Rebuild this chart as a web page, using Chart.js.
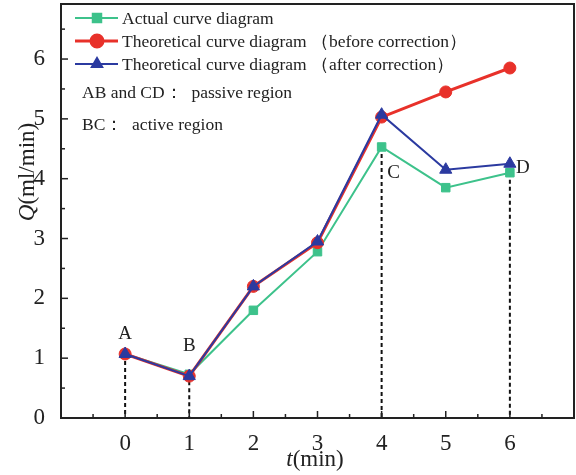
<!DOCTYPE html>
<html>
<head>
<meta charset="utf-8">
<script src="https://cdn.jsdelivr.net/npm/chart.js@4.4.0/dist/chart.umd.min.js"></script>
<style>
html,body{margin:0;padding:0;background:#fff;}
#wrap{width:576px;height:475px;position:relative;}
</style>
</head>
<body>
<div id="wrap"><canvas id="c" width="576" height="475"></canvas></div>
<script>
// ---- data ----
const times = [0, 1, 2, 3, 4, 5, 6];
const actualQ = [1.07, 0.73, 1.80, 2.78, 4.53, 3.85, 4.10];
const beforeQ = [1.07, 0.70, 2.20, 2.93, 5.03, 5.45, 5.85];
const afterQ  = [1.07, 0.70, 2.20, 2.95, 5.07, 4.15, 4.25];
const xTickLabels = ['0', '1', '2', '3', '4', '5', '6'];
const yTickLabels = ['0', '1', '2', '3', '4', '5', '6'];
const seriesNames = ['Actual curve diagram', 'Theoretical curve diagram （before correction）', 'Theoretical curve diagram （after correction）'];
const noteLines = ['AB and CD：  passive region', 'BC：  active region'];
const pointLabels = [{name:'A', idx:0}, {name:'B', idx:1}, {name:'C', idx:4}, {name:'D', idx:6}];

const GREEN = '#3dc28b', RED = '#e8312a', BLUE = '#2b3aa0';
const SERIF = '"Liberation Serif", "DejaVu Serif", serif';

const pts = arr => times.map((t, i) => ({x: t, y: arr[i]}));

const decor = {
  id: 'decor',
  beforeDatasetsDraw(chart) {
    const {ctx, chartArea: a, scales: {x, y}} = chart;
    ctx.save();
    ctx.strokeStyle = '#111';
    ctx.lineWidth = 2;
    ctx.setLineDash([4, 3]);
    pointLabels.forEach(p => {
      const px = x.getPixelForValue(times[p.idx]);
      ctx.beginPath();
      ctx.moveTo(px, y.getPixelForValue(actualQ[p.idx]));
      ctx.lineTo(px, y.getPixelForValue(0));
      ctx.stroke();
    });
    ctx.restore();
  },
  afterDraw(chart) {
    const {ctx, chartArea: a, scales: {x, y}} = chart;
    ctx.save();
    ctx.strokeStyle = '#222';
    ctx.lineWidth = 2;
    ctx.setLineDash([]);
    ctx.strokeRect(a.left, a.top, a.right - a.left, a.bottom - a.top);
    ctx.lineWidth = 1.5;
    for (let v = -0.5; v <= 6.5; v += 0.5) {
      const px = x.getPixelForValue(v);
      const len = Number.isInteger(v) ? 7 : 4;
      ctx.beginPath(); ctx.moveTo(px, a.bottom); ctx.lineTo(px, a.bottom - len); ctx.stroke();
    }
    for (let v = 0.5; v <= 6.5; v += 0.5) {
      const py = y.getPixelForValue(v);
      const len = Number.isInteger(v) ? 7 : 4;
      ctx.beginPath(); ctx.moveTo(a.left, py); ctx.lineTo(a.left + len, py); ctx.stroke();
    }
    ctx.fillStyle = '#222';
    ctx.textBaseline = 'middle';
    ctx.font = 'italic 23px ' + SERIF;
    const wt = ctx.measureText('t').width;
    ctx.font = '23px ' + SERIF;
    const wr = ctx.measureText('(min)').width;
    let sx = 315 - (wt + wr) / 2;
    ctx.font = 'italic 23px ' + SERIF;
    ctx.textAlign = 'left';
    ctx.fillText('t', sx, 460);
    ctx.font = '23px ' + SERIF;
    ctx.fillText('(min)', sx + wt, 460);
    ctx.save();
    ctx.translate(28, 172);
    ctx.rotate(-Math.PI / 2);
    ctx.font = 'italic 23px ' + SERIF;
    const wq = ctx.measureText('Q').width;
    ctx.font = '23px ' + SERIF;
    const wm = ctx.measureText('(ml/min)').width;
    let sq = -(wq + wm) / 2;
    ctx.font = 'italic 23px ' + SERIF;
    ctx.fillText('Q', sq, 0);
    ctx.font = '23px ' + SERIF;
    ctx.fillText('(ml/min)', sq + wq, 0);
    ctx.restore();
    ctx.font = '19px ' + SERIF;
    ctx.textAlign = 'center';
    const offs = {A: [0, -20], B: [0, -28], C: [12, 26], D: [13, -5]};
    pointLabels.forEach(p => {
      const px = x.getPixelForValue(times[p.idx]);
      const py = y.getPixelForValue(actualQ[p.idx]);
      const o = offs[p.name];
      ctx.fillText(p.name, px + o[0], py + o[1]);
    });
    const colors = [GREEN, RED, BLUE];
    const styles = ['rect', 'circle', 'triangle'];
    const widths = [2, 3, 2];
    const rows = [18, 41, 64];
    ctx.textAlign = 'left';
    ctx.font = '17.5px ' + SERIF;
    rows.forEach((ry, i) => {
      ctx.strokeStyle = colors[i];
      ctx.fillStyle = colors[i];
      ctx.lineWidth = widths[i];
      ctx.beginPath(); ctx.moveTo(75, ry); ctx.lineTo(118, ry); ctx.stroke();
      Chart.helpers.drawPoint(ctx, {pointStyle: styles[i], radius: 6, borderWidth: 1}, 97, ry);
      ctx.fillStyle = '#222';
      ctx.fillText(seriesNames[i], 122, ry + 1);
    });
    ctx.fillStyle = '#222';
    ctx.fillText(noteLines[0], 82, 93);
    ctx.fillText(noteLines[1], 82, 125);
    ctx.restore();
  }
};

new Chart(document.getElementById('c'), {
  type: 'line',
  data: {
    datasets: [
      {label: seriesNames[2], data: pts(afterQ), borderColor: BLUE, backgroundColor: BLUE, borderWidth: 2,
       pointStyle: 'triangle', pointRadius: 7, pointBorderWidth: 1, order: 0},
      {label: seriesNames[1], data: pts(beforeQ), borderColor: RED, backgroundColor: RED, borderWidth: 3,
       pointStyle: 'circle', pointRadius: 6, pointBorderWidth: 1, order: 1},
      {label: seriesNames[0], data: pts(actualQ), borderColor: GREEN, backgroundColor: GREEN, borderWidth: 2,
       pointStyle: 'rect', pointRadius: 6, pointBorderWidth: 1, order: 2}
    ]
  },
  options: {
    responsive: false,
    animation: false,
    layout: {autoPadding: false, padding: {top: 4, right: 2, left: 0, bottom: 0}},
    plugins: {legend: {display: false}, tooltip: {enabled: false}},
    scales: {
      x: {
        type: 'linear', min: -1, max: 7,
        afterBuildTicks: s => { s.ticks = xTickLabels.map(v => ({value: Number(v)})); },
        afterFit: s => { s.height = 57; s.paddingLeft = 0; s.paddingRight = 0; },
        grid: {display: false}, border: {display: false},
        ticks: {color: '#222', font: {family: SERIF, size: 23}, padding: 4, maxRotation: 0,
                callback: v => String(v)}
      },
      y: {
        min: 0, max: 6.92,
        afterBuildTicks: s => { s.ticks = yTickLabels.map(v => ({value: Number(v)})); },
        afterFit: s => { s.width = 61; s.paddingTop = 0; s.paddingBottom = 0; },
        grid: {display: false}, border: {display: false},
        ticks: {color: '#222', font: {family: SERIF, size: 23}, padding: 8,
                callback: v => String(v)}
      }
    }
  },
  plugins: [decor]
});
</script>
</body>
</html>
